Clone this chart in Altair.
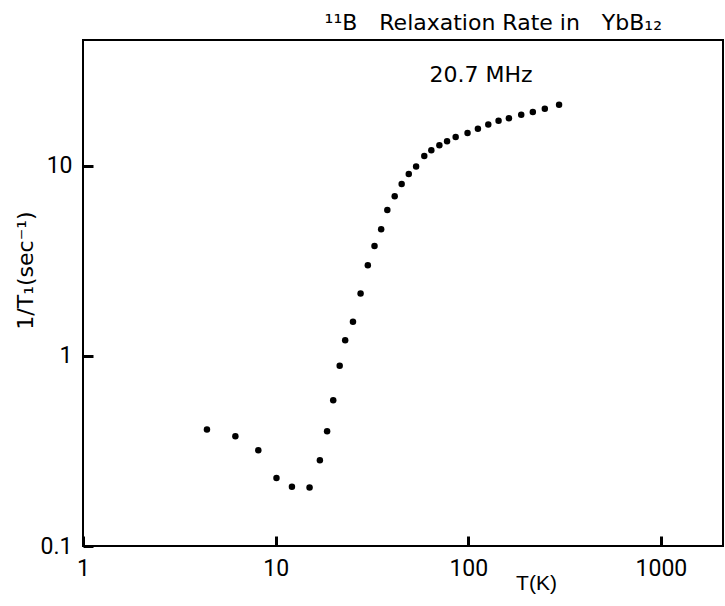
import altair as alt
import pandas as pd

# Temperature (K) and 11B relaxation rate 1/T1 (sec^-1)
T_K = [4.40, 6.18, 8.13, 10.1, 12.15, 15.0, 16.97, 18.5, 19.9, 21.5, 22.96, 25.2,
       27.6, 30.1, 32.6, 35.3, 38.0, 41.5, 45.1, 49.1, 53.6, 59.1, 64.3, 70.8,
       77.6, 86.0, 99.1, 112.2, 127.0, 143.6, 162.5, 188.3, 216.3, 249.6, 296.0]
RATE = [0.41, 0.378, 0.319, 0.228, 0.205, 0.203, 0.283, 0.402, 0.585, 0.889, 1.21, 1.515,
        2.13, 3.0, 3.79, 4.64, 5.87, 6.93, 8.04, 9.08, 9.92, 11.29, 12.1, 12.85,
        13.5, 14.2, 14.9, 15.7, 16.5, 17.3, 17.8, 18.6, 19.2, 20.0, 21.0]

X_TICKS = [1, 10, 100, 1000]
Y_TICKS = [0.1, 1, 10]
X_DOMAIN = [1, 2100]
Y_DOMAIN = [0.1, 46]

TITLE = "\u00b9\u00b9B\u2003Relaxation Rate in\u2003YbB\u2081\u2082"
FREQ = "20.7 MHz"
X_TITLE = "T(K)"
Y_TITLE = "1/T\u2081(sec\u207b\u00b9)"

W, H = 640, 506
TICK_LEN = 10
LABEL_FONT = "Roboto"

df = pd.DataFrame({"T": T_K, "R": RATE})

xscale = alt.Scale(type="log", domain=X_DOMAIN, nice=False)
yscale = alt.Scale(type="log", domain=Y_DOMAIN, nice=False)

points = alt.Chart(df).mark_circle(size=42, color="black", opacity=1).encode(
    x=alt.X("T:Q", scale=xscale,
            axis=alt.Axis(values=X_TICKS, format="d", ticks=True, tickSize=TICK_LEN,
                          tickWidth=3, tickColor="#000000", tickOpacity=1,
                          offset=-TICK_LEN, domain=False,
                          grid=False, labelFont=LABEL_FONT, labelFontSize=23,
                          labelColor="black", labelPadding=11, labelFlush=False,
                          title=X_TITLE, titleFont="Liberation Sans", titleFontSize=21,
                          titleFontWeight="normal", titleColor="black",
                          titleX=453, titleY=37 + TICK_LEN, titleBaseline="middle",
                          titleAlign="center")),
    y=alt.Y("R:Q", scale=yscale,
            axis=alt.Axis(values=Y_TICKS, format="~g", ticks=True, tickSize=TICK_LEN,
                          tickWidth=3, tickColor="#000000", tickOpacity=1,
                          offset=-TICK_LEN, domain=False,
                          grid=False, labelFont=LABEL_FONT, labelFontSize=23,
                          labelColor="black", labelPadding=11, labelFlush=False,
                          title=Y_TITLE, titleFont="DejaVu Sans", titleFontSize=22,
                          titleFontWeight="normal", titleColor="black",
                          titleX=-58 - TICK_LEN, titleY=230, titleBaseline="middle",
                          titleAlign="center")),
)

title = alt.Chart(pd.DataFrame({"t": [TITLE]})).mark_text(
    align="right", baseline="alphabetic", font="DejaVu Sans", fontSize=22, color="black"
).encode(text="t:N", x=alt.value(579), y=alt.value(-10))

freq = alt.Chart(pd.DataFrame({"t": [FREQ]})).mark_text(
    align="center", baseline="alphabetic", font="DejaVu Sans", fontSize=22, color="black"
).encode(text="t:N", x=alt.value(398), y=alt.value(42))

chart = alt.layer(points, title, freq).properties(
    width=W, height=H,
    autosize="none",
    background="white",
    padding={"left": 83, "top": 40, "right": 1, "bottom": 59},
).configure_view(stroke="black", strokeWidth=2)

chart.save("out.html", embed_options={"renderer": "svg", "actions": False})
